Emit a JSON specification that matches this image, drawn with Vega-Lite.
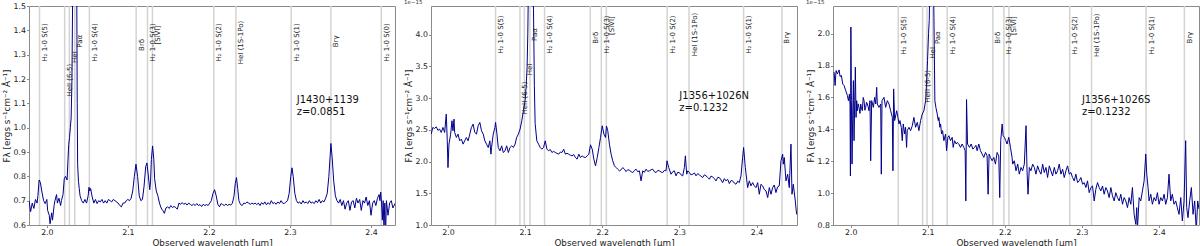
{
"$schema": "https://vega.github.io/schema/vega-lite/v6.json",
"background": "white",
"padding": {"left": 1, "top": -5, "right": 0, "bottom": 0},
"spacing": 36,
"bounds": "flush",
"config": {
  "font": "DejaVu Sans",
  "view": {"stroke": "#8a8a8a", "strokeWidth": 1},
  "axis": {"grid": false, "domain": false, "tickColor": "#8a8a8a", "tickSize": 2.5, "labelFontSize": 7.8, "labelColor": "#222222", "titleFontSize": 8.8, "titleFontWeight": "normal", "titleColor": "#222222", "labelPadding": 1, "labelFlush": false, "labelOverlap": false, "labelSeparation": 0},
  "title": {"fontSize": 5.5, "fontWeight": "normal", "anchor": "start", "offset": 0.5, "color": "#333333"}
},
"datasets": {
"spec1": [
{"w":1.978,"f":0.700},{"w":1.980,"f":0.655},{"w":1.982,"f":0.690},{"w":1.984,"f":0.668},{"w":1.986,"f":0.705},{"w":1.988,"f":0.690},{"w":1.989,"f":0.720},{"w":1.9905,"f":0.785},{"w":1.992,"f":0.775},{"w":1.994,"f":0.735},{"w":1.996,"f":0.700},{"w":1.998,"f":0.688},{"w":2.000,"f":0.705},{"w":2.001,"f":0.660},{"w":2.003,"f":0.640},{"w":2.004,"f":0.605},{"w":2.006,"f":0.650},{"w":2.007,"f":0.620},{"w":2.009,"f":0.680},{"w":2.010,"f":0.700},{"w":2.012,"f":0.725},{"w":2.013,"f":0.690},{"w":2.015,"f":0.710},{"w":2.017,"f":0.680},{"w":2.018,"f":0.700},{"w":2.020,"f":0.725},{"w":2.0215,"f":0.790},{"w":2.023,"f":0.800},{"w":2.025,"f":0.785},{"w":2.026,"f":0.860},{"w":2.027,"f":0.930},{"w":2.028,"f":0.960},{"w":2.029,"f":1.000},{"w":2.030,"f":1.040},{"w":2.031,"f":1.200},{"w":2.032,"f":1.600},{"w":2.033,"f":2.100},{"w":2.034,"f":2.500},{"w":2.035,"f":2.600},{"w":2.036,"f":2.200},{"w":2.037,"f":1.500},{"w":2.0375,"f":1.100},{"w":2.038,"f":0.850},{"w":2.039,"f":0.780},{"w":2.040,"f":0.750},{"w":2.041,"f":0.720},{"w":2.043,"f":0.700},{"w":2.045,"f":0.690},{"w":2.047,"f":0.705},{"w":2.049,"f":0.690},{"w":2.051,"f":0.720},{"w":2.052,"f":0.755},{"w":2.053,"f":0.740},{"w":2.054,"f":0.750},{"w":2.056,"f":0.715},{"w":2.058,"f":0.690},{"w":2.060,"f":0.705},{"w":2.062,"f":0.688},{"w":2.064,"f":0.700},{"w":2.066,"f":0.695},{"w":2.068,"f":0.705},{"w":2.070,"f":0.690},{"w":2.072,"f":0.700},{"w":2.074,"f":0.690},{"w":2.076,"f":0.705},{"w":2.078,"f":0.700},{"w":2.080,"f":0.695},{"w":2.082,"f":0.705},{"w":2.084,"f":0.700},{"w":2.086,"f":0.695},{"w":2.088,"f":0.690},{"w":2.090,"f":0.680},{"w":2.092,"f":0.675},{"w":2.094,"f":0.690},{"w":2.096,"f":0.690},{"w":2.098,"f":0.700},{"w":2.100,"f":0.705},{"w":2.102,"f":0.700},{"w":2.104,"f":0.710},{"w":2.106,"f":0.740},{"w":2.108,"f":0.800},{"w":2.110,"f":0.850},{"w":2.112,"f":0.800},{"w":2.114,"f":0.720},{"w":2.116,"f":0.700},{"w":2.118,"f":0.705},{"w":2.120,"f":0.760},{"w":2.122,"f":0.840},{"w":2.1235,"f":0.855},{"w":2.125,"f":0.810},{"w":2.127,"f":0.745},{"w":2.128,"f":0.780},{"w":2.129,"f":0.870},{"w":2.1305,"f":0.925},{"w":2.132,"f":0.870},{"w":2.133,"f":0.790},{"w":2.135,"f":0.740},{"w":2.137,"f":0.720},{"w":2.139,"f":0.690},{"w":2.141,"f":0.670},{"w":2.143,"f":0.660},{"w":2.145,"f":0.648},{"w":2.147,"f":0.670},{"w":2.149,"f":0.675},{"w":2.151,"f":0.668},{"w":2.153,"f":0.680},{"w":2.155,"f":0.672},{"w":2.157,"f":0.676},{"w":2.159,"f":0.672},{"w":2.161,"f":0.665},{"w":2.163,"f":0.690},{"w":2.165,"f":0.685},{"w":2.167,"f":0.692},{"w":2.169,"f":0.685},{"w":2.171,"f":0.690},{"w":2.173,"f":0.682},{"w":2.175,"f":0.690},{"w":2.177,"f":0.685},{"w":2.179,"f":0.680},{"w":2.181,"f":0.686},{"w":2.183,"f":0.680},{"w":2.185,"f":0.688},{"w":2.187,"f":0.680},{"w":2.189,"f":0.684},{"w":2.191,"f":0.676},{"w":2.193,"f":0.685},{"w":2.195,"f":0.680},{"w":2.197,"f":0.684},{"w":2.199,"f":0.680},{"w":2.201,"f":0.690},{"w":2.203,"f":0.700},{"w":2.205,"f":0.730},{"w":2.207,"f":0.745},{"w":2.209,"f":0.720},{"w":2.211,"f":0.685},{"w":2.213,"f":0.675},{"w":2.215,"f":0.688},{"w":2.217,"f":0.684},{"w":2.219,"f":0.680},{"w":2.221,"f":0.686},{"w":2.223,"f":0.680},{"w":2.225,"f":0.685},{"w":2.227,"f":0.682},{"w":2.229,"f":0.690},{"w":2.231,"f":0.720},{"w":2.2325,"f":0.770},{"w":2.234,"f":0.795},{"w":2.2355,"f":0.750},{"w":2.237,"f":0.700},{"w":2.239,"f":0.684},{"w":2.241,"f":0.680},{"w":2.243,"f":0.690},{"w":2.245,"f":0.688},{"w":2.247,"f":0.695},{"w":2.249,"f":0.690},{"w":2.251,"f":0.685},{"w":2.253,"f":0.690},{"w":2.255,"f":0.686},{"w":2.257,"f":0.690},{"w":2.259,"f":0.684},{"w":2.261,"f":0.690},{"w":2.263,"f":0.680},{"w":2.265,"f":0.692},{"w":2.267,"f":0.685},{"w":2.269,"f":0.695},{"w":2.271,"f":0.683},{"w":2.273,"f":0.692},{"w":2.275,"f":0.685},{"w":2.277,"f":0.700},{"w":2.279,"f":0.688},{"w":2.281,"f":0.692},{"w":2.283,"f":0.685},{"w":2.285,"f":0.695},{"w":2.287,"f":0.688},{"w":2.289,"f":0.700},{"w":2.291,"f":0.690},{"w":2.293,"f":0.688},{"w":2.295,"f":0.695},{"w":2.297,"f":0.700},{"w":2.299,"f":0.730},{"w":2.301,"f":0.800},{"w":2.3025,"f":0.835},{"w":2.304,"f":0.800},{"w":2.306,"f":0.730},{"w":2.308,"f":0.700},{"w":2.310,"f":0.690},{"w":2.312,"f":0.695},{"w":2.314,"f":0.686},{"w":2.316,"f":0.700},{"w":2.318,"f":0.690},{"w":2.320,"f":0.695},{"w":2.322,"f":0.688},{"w":2.324,"f":0.700},{"w":2.326,"f":0.690},{"w":2.328,"f":0.694},{"w":2.330,"f":0.688},{"w":2.332,"f":0.700},{"w":2.334,"f":0.692},{"w":2.336,"f":0.705},{"w":2.338,"f":0.690},{"w":2.340,"f":0.700},{"w":2.342,"f":0.695},{"w":2.344,"f":0.710},{"w":2.346,"f":0.730},{"w":2.348,"f":0.800},{"w":2.3495,"f":0.880},{"w":2.3505,"f":0.935},{"w":2.352,"f":0.880},{"w":2.354,"f":0.780},{"w":2.356,"f":0.720},{"w":2.358,"f":0.700},{"w":2.360,"f":0.690},{"w":2.362,"f":0.705},{"w":2.364,"f":0.680},{"w":2.366,"f":0.700},{"w":2.368,"f":0.665},{"w":2.370,"f":0.690},{"w":2.372,"f":0.700},{"w":2.374,"f":0.660},{"w":2.376,"f":0.695},{"w":2.378,"f":0.700},{"w":2.380,"f":0.670},{"w":2.382,"f":0.710},{"w":2.384,"f":0.690},{"w":2.386,"f":0.705},{"w":2.388,"f":0.660},{"w":2.390,"f":0.700},{"w":2.392,"f":0.690},{"w":2.394,"f":0.715},{"w":2.396,"f":0.680},{"w":2.398,"f":0.700},{"w":2.400,"f":0.640},{"w":2.402,"f":0.690},{"w":2.404,"f":0.700},{"w":2.406,"f":0.680},{"w":2.408,"f":0.710},{"w":2.410,"f":0.725},{"w":2.411,"f":0.700},{"w":2.412,"f":0.735},{"w":2.413,"f":0.690},{"w":2.414,"f":0.620},{"w":2.415,"f":0.700},{"w":2.416,"f":0.580},{"w":2.417,"f":0.690},{"w":2.418,"f":0.560},{"w":2.419,"f":0.700},{"w":2.421,"f":0.640},{"w":2.423,"f":0.690},{"w":2.425,"f":0.700},{"w":2.427,"f":0.670},{"w":2.430,"f":0.690}
],
"spec2": [
{"w":1.9783,"f":2.432},{"w":1.9804,"f":2.537},{"w":1.9826,"f":2.52},{"w":1.9848,"f":2.547},{"w":1.987,"f":2.49},{"w":1.9891,"f":2.511},{"w":1.9913,"f":2.458},{"w":1.9935,"f":2.537},{"w":1.9957,"f":2.458},{"w":1.9978,"f":2.747},{"w":1.9991,"f":2.326},{"w":2.0,"f":1.905},{"w":2.0013,"f":2.274},{"w":2.0035,"f":2.432},{"w":2.0052,"f":2.642},{"w":2.0065,"f":2.484},{"w":2.0078,"f":2.668},{"w":2.0087,"f":2.458},{"w":2.0109,"f":2.379},{"w":2.013,"f":2.432},{"w":2.0152,"f":2.326},{"w":2.0174,"f":2.353},{"w":2.0196,"f":2.274},{"w":2.0217,"f":2.326},{"w":2.0239,"f":2.379},{"w":2.0261,"f":2.326},{"w":2.0283,"f":2.432},{"w":2.0304,"f":2.537},{"w":2.0326,"f":2.589},{"w":2.0348,"f":2.458},{"w":2.037,"f":2.432},{"w":2.0391,"f":2.563},{"w":2.0413,"f":2.616},{"w":2.0435,"f":2.484},{"w":2.0457,"f":2.432},{"w":2.0478,"f":2.326},{"w":2.05,"f":2.274},{"w":2.0522,"f":2.221},{"w":2.0543,"f":2.326},{"w":2.0557,"f":2.116},{"w":2.0565,"f":2.221},{"w":2.0587,"f":2.432},{"w":2.0609,"f":2.537},{"w":2.0617,"f":2.616},{"w":2.0635,"f":2.432},{"w":2.0652,"f":2.221},{"w":2.0674,"f":2.168},{"w":2.0696,"f":2.247},{"w":2.0717,"f":2.142},{"w":2.0739,"f":2.168},{"w":2.0761,"f":2.247},{"w":2.0783,"f":2.142},{"w":2.0804,"f":2.221},{"w":2.0826,"f":2.247},{"w":2.0848,"f":2.221},{"w":2.087,"f":2.274},{"w":2.0891,"f":2.379},{"w":2.0913,"f":2.432},{"w":2.0935,"f":2.511},{"w":2.0957,"f":2.642},{"w":2.0978,"f":2.8},{"w":2.1,"f":2.958},{"w":2.1013,"f":3.168},{"w":2.1026,"f":3.484},{"w":2.1035,"f":4.011},{"w":2.1045,"f":5.0},{"w":2.106,"f":6.2},{"w":2.1075,"f":6.0},{"w":2.109,"f":5.2},{"w":2.1109,"f":4.4},{"w":2.112,"f":3.2},{"w":2.113,"f":2.6},{"w":2.1152,"f":2.326},{"w":2.1174,"f":2.274},{"w":2.1196,"f":2.221},{"w":2.1217,"f":2.195},{"w":2.1239,"f":2.221},{"w":2.1261,"f":2.326},{"w":2.1283,"f":2.195},{"w":2.1304,"f":2.168},{"w":2.1326,"f":2.19},{"w":2.1348,"f":2.142},{"w":2.137,"f":2.16},{"w":2.1391,"f":2.142},{"w":2.1413,"f":2.13},{"w":2.1435,"f":2.116},{"w":2.1457,"f":2.15},{"w":2.1478,"f":2.142},{"w":2.15,"f":2.195},{"w":2.1522,"f":2.116},{"w":2.1543,"f":2.13},{"w":2.1565,"f":2.116},{"w":2.1587,"f":2.1},{"w":2.1609,"f":2.089},{"w":2.163,"f":2.11},{"w":2.1652,"f":2.063},{"w":2.1674,"f":2.037},{"w":2.1696,"f":2.116},{"w":2.1717,"f":2.063},{"w":2.1739,"f":2.089},{"w":2.1761,"f":2.07},{"w":2.1783,"f":2.063},{"w":2.1805,"f":2.09},{"w":2.1826,"f":2.116},{"w":2.1848,"f":2.263},{"w":2.187,"f":2.195},{"w":2.1891,"f":2.037},{"w":2.1913,"f":1.932},{"w":2.1935,"f":2.063},{"w":2.1957,"f":2.221},{"w":2.1978,"f":2.379},{"w":2.2,"f":2.563},{"w":2.2022,"f":2.432},{"w":2.2043,"f":2.379},{"w":2.2055,"f":2.56},{"w":2.2072,"f":2.484},{"w":2.2093,"f":2.274},{"w":2.2115,"f":2.116},{"w":2.2136,"f":2.011},{"w":2.2158,"f":1.932},{"w":2.218,"f":1.905},{"w":2.22,"f":1.88},{"w":2.2223,"f":1.853},{"w":2.2245,"f":1.87},{"w":2.2266,"f":1.905},{"w":2.2288,"f":1.879},{"w":2.2309,"f":1.842},{"w":2.233,"f":1.87},{"w":2.2352,"f":1.863},{"w":2.2374,"f":1.84},{"w":2.2396,"f":1.826},{"w":2.2418,"f":1.86},{"w":2.2439,"f":1.879},{"w":2.246,"f":1.84},{"w":2.2482,"f":1.853},{"w":2.2503,"f":1.695},{"w":2.2525,"f":1.853},{"w":2.2546,"f":1.83},{"w":2.2568,"f":1.879},{"w":2.259,"f":1.845},{"w":2.2611,"f":1.853},{"w":2.2633,"f":1.87},{"w":2.2655,"f":1.879},{"w":2.2676,"f":1.84},{"w":2.2698,"f":1.826},{"w":2.272,"f":1.86},{"w":2.2741,"f":1.853},{"w":2.2762,"f":1.835},{"w":2.2784,"f":1.826},{"w":2.2805,"f":1.86},{"w":2.2827,"f":1.853},{"w":2.284,"f":2.011},{"w":2.2862,"f":1.905},{"w":2.2892,"f":1.8},{"w":2.2915,"f":1.84},{"w":2.2935,"f":1.853},{"w":2.2957,"f":1.774},{"w":2.2978,"f":1.83},{"w":2.3,"f":1.826},{"w":2.3022,"f":1.79},{"w":2.3043,"f":1.774},{"w":2.3065,"f":1.905},{"w":2.3078,"f":2.089},{"w":2.3095,"f":1.8},{"w":2.3108,"f":1.853},{"w":2.313,"f":1.826},{"w":2.315,"f":1.79},{"w":2.3173,"f":1.8},{"w":2.3195,"f":1.82},{"w":2.3216,"f":1.774},{"w":2.3238,"f":1.81},{"w":2.3259,"f":1.789},{"w":2.328,"f":1.77},{"w":2.3302,"f":1.747},{"w":2.3324,"f":1.79},{"w":2.3345,"f":1.774},{"w":2.3367,"f":1.75},{"w":2.3389,"f":1.721},{"w":2.341,"f":1.77},{"w":2.3432,"f":1.758},{"w":2.3454,"f":1.73},{"w":2.3475,"f":1.695},{"w":2.3497,"f":1.75},{"w":2.3518,"f":1.747},{"w":2.354,"f":1.71},{"w":2.3561,"f":1.668},{"w":2.3583,"f":1.73},{"w":2.3604,"f":1.695},{"w":2.3626,"f":1.72},{"w":2.3648,"f":1.653},{"w":2.367,"f":1.7},{"w":2.3691,"f":1.695},{"w":2.3712,"f":1.66},{"w":2.3734,"f":1.642},{"w":2.3756,"f":1.69},{"w":2.3777,"f":1.668},{"w":2.3799,"f":1.774},{"w":2.382,"f":2.063},{"w":2.3833,"f":2.221},{"w":2.3855,"f":1.905},{"w":2.3885,"f":1.589},{"w":2.3907,"f":1.695},{"w":2.3928,"f":1.616},{"w":2.395,"f":1.668},{"w":2.397,"f":1.62},{"w":2.3993,"f":1.589},{"w":2.4015,"f":1.668},{"w":2.4036,"f":1.484},{"w":2.4058,"f":1.642},{"w":2.408,"f":1.616},{"w":2.41,"f":1.56},{"w":2.4123,"f":1.537},{"w":2.4145,"f":1.432},{"w":2.4166,"f":1.589},{"w":2.4188,"f":1.484},{"w":2.4209,"f":1.589},{"w":2.423,"f":1.63},{"w":2.4252,"f":1.511},{"w":2.4273,"f":1.6},{"w":2.4295,"f":1.616},{"w":2.4317,"f":2.011},{"w":2.4339,"f":2.116},{"w":2.4347,"f":1.958},{"w":2.436,"f":2.063},{"w":2.4382,"f":1.695},{"w":2.4404,"f":1.8},{"w":2.4425,"f":1.589},{"w":2.4447,"f":2.274},{"w":2.446,"f":1.484},{"w":2.4477,"f":1.642},{"w":2.4503,"f":1.379},{"w":2.452,"f":1.168}
],
"spec3": [
{"w":1.9784,"f":1.759},{"w":1.9797,"f":1.675},{"w":1.981,"f":1.769},{"w":1.9827,"f":1.748},{"w":1.9849,"f":1.773},{"w":1.9862,"f":1.731},{"w":1.9879,"f":1.738},{"w":1.9896,"f":1.685},{"w":1.9914,"f":1.675},{"w":1.9935,"f":1.643},{"w":1.9957,"f":1.612},{"w":1.997,"f":1.58},{"w":1.9983,"f":1.622},{"w":1.9991,"f":1.559},{"w":1.9996,"f":1.108},{"w":2.0002,"f":2.042},{"w":2.0009,"f":1.58},{"w":2.0017,"f":1.182},{"w":2.0026,"f":1.496},{"w":2.0035,"f":1.706},{"w":2.0043,"f":1.329},{"w":2.0052,"f":1.58},{"w":2.006,"f":1.79},{"w":2.0069,"f":1.475},{"w":2.0078,"f":1.58},{"w":2.0086,"f":1.517},{"w":2.0097,"f":1.56},{"w":2.0108,"f":1.538},{"w":2.012,"f":1.5},{"w":2.013,"f":1.559},{"w":2.014,"f":1.53},{"w":2.0151,"f":1.517},{"w":2.0162,"f":1.6},{"w":2.0173,"f":1.58},{"w":2.0184,"f":1.52},{"w":2.0194,"f":1.538},{"w":2.0205,"f":1.57},{"w":2.0216,"f":1.559},{"w":2.0227,"f":1.54},{"w":2.0237,"f":1.517},{"w":2.025,"f":1.58},{"w":2.0259,"f":1.203},{"w":2.0272,"f":1.58},{"w":2.0294,"f":1.538},{"w":2.0311,"f":1.601},{"w":2.0324,"f":1.559},{"w":2.0337,"f":1.664},{"w":2.0345,"f":1.559},{"w":2.0367,"f":1.538},{"w":2.0389,"f":1.559},{"w":2.0397,"f":1.119},{"w":2.0406,"f":1.58},{"w":2.0432,"f":1.601},{"w":2.0453,"f":1.538},{"w":2.0475,"f":1.58},{"w":2.0497,"f":1.559},{"w":2.0518,"f":1.517},{"w":2.054,"f":1.475},{"w":2.0548,"f":1.14},{"w":2.0557,"f":1.654},{"w":2.057,"f":1.455},{"w":2.0585,"f":1.49},{"w":2.0596,"f":1.517},{"w":2.0613,"f":1.475},{"w":2.0626,"f":1.434},{"w":2.0639,"f":1.455},{"w":2.0656,"f":1.413},{"w":2.0669,"f":1.329},{"w":2.0682,"f":1.434},{"w":2.07,"f":1.371},{"w":2.0712,"f":1.413},{"w":2.0725,"f":1.287},{"w":2.0734,"f":1.392},{"w":2.0756,"f":1.413},{"w":2.0777,"f":1.392},{"w":2.0799,"f":1.423},{"w":2.082,"f":1.475},{"w":2.0842,"f":1.413},{"w":2.0864,"f":1.444},{"w":2.0885,"f":1.392},{"w":2.0907,"f":1.455},{"w":2.0928,"f":1.496},{"w":2.095,"f":1.517},{"w":2.0972,"f":1.58},{"w":2.0984,"f":1.685},{"w":2.0997,"f":1.832},{"w":2.101,"f":2.0},{"w":2.1019,"f":2.084},{"w":2.1035,"f":2.5},{"w":2.105,"f":2.8},{"w":2.1065,"f":2.6},{"w":2.108,"f":2.1},{"w":2.1092,"f":1.58},{"w":2.1105,"f":1.538},{"w":2.1123,"f":1.496},{"w":2.1136,"f":1.455},{"w":2.1144,"f":1.475},{"w":2.1157,"f":1.413},{"w":2.1166,"f":1.434},{"w":2.1179,"f":1.371},{"w":2.1192,"f":1.392},{"w":2.1209,"f":1.329},{"w":2.1231,"f":1.371},{"w":2.1244,"f":1.266},{"w":2.1261,"f":1.35},{"w":2.1274,"f":1.36},{"w":2.1295,"f":1.329},{"w":2.1317,"f":1.35},{"w":2.133,"f":1.287},{"w":2.1347,"f":1.329},{"w":2.1369,"f":1.308},{"w":2.1382,"f":1.318},{"w":2.1403,"f":1.308},{"w":2.1425,"f":1.287},{"w":2.1446,"f":1.308},{"w":2.1468,"f":1.287},{"w":2.1485,"f":1.266},{"w":2.1494,"f":0.951},{"w":2.1503,"f":1.587},{"w":2.1516,"f":1.308},{"w":2.1541,"f":1.287},{"w":2.1563,"f":1.308},{"w":2.1585,"f":1.276},{"w":2.1606,"f":1.287},{"w":2.1625,"f":1.3},{"w":2.1641,"f":1.266},{"w":2.1662,"f":1.308},{"w":2.1684,"f":1.266},{"w":2.1706,"f":1.245},{"w":2.1727,"f":1.224},{"w":2.1749,"f":1.255},{"w":2.177,"f":1.234},{"w":2.1783,"f":0.993},{"w":2.1796,"f":1.245},{"w":2.1813,"f":1.224},{"w":2.1835,"f":1.203},{"w":2.1857,"f":1.224},{"w":2.1878,"f":1.182},{"w":2.19,"f":1.255},{"w":2.1921,"f":1.234},{"w":2.1934,"f":0.972},{"w":2.1947,"f":1.329},{"w":2.1965,"f":1.434},{"w":2.1978,"f":1.36},{"w":2.1995,"f":1.35},{"w":2.2012,"f":1.329},{"w":2.2029,"f":1.308},{"w":2.2051,"f":1.35},{"w":2.2073,"f":1.287},{"w":2.2094,"f":1.224},{"w":2.2102,"f":1.182},{"w":2.2123,"f":1.203},{"w":2.2145,"f":1.14},{"w":2.2167,"f":1.182},{"w":2.2188,"f":1.119},{"w":2.221,"f":1.161},{"w":2.2231,"f":1.14},{"w":2.2253,"f":1.182},{"w":2.2275,"f":1.423},{"w":2.2288,"f":1.14},{"w":2.2301,"f":0.993},{"w":2.2318,"f":1.161},{"w":2.2339,"f":1.14},{"w":2.2361,"f":1.182},{"w":2.2383,"f":1.161},{"w":2.2404,"f":1.119},{"w":2.2426,"f":1.171},{"w":2.2447,"f":1.14},{"w":2.2469,"f":1.119},{"w":2.2491,"f":1.182},{"w":2.2512,"f":1.129},{"w":2.2534,"f":1.161},{"w":2.2555,"f":1.098},{"w":2.2577,"f":1.171},{"w":2.2598,"f":1.14},{"w":2.262,"f":1.108},{"w":2.2642,"f":1.161},{"w":2.2663,"f":1.119},{"w":2.2685,"f":1.14},{"w":2.2706,"f":1.182},{"w":2.2728,"f":1.119},{"w":2.275,"f":1.15},{"w":2.2771,"f":1.098},{"w":2.2793,"f":1.14},{"w":2.2814,"f":1.171},{"w":2.2836,"f":1.119},{"w":2.2858,"f":1.129},{"w":2.2879,"f":1.098},{"w":2.2901,"f":1.077},{"w":2.2922,"f":1.119},{"w":2.2944,"f":1.066},{"w":2.2965,"f":1.077},{"w":2.2987,"f":1.098},{"w":2.3009,"f":1.056},{"w":2.303,"f":1.066},{"w":2.3052,"f":1.035},{"w":2.3073,"f":1.077},{"w":2.3095,"f":1.003},{"w":2.3117,"f":1.035},{"w":2.3138,"f":1.045},{"w":2.316,"f":0.951},{"w":2.3181,"f":1.024},{"w":2.3203,"f":1.066},{"w":2.3225,"f":1.035},{"w":2.3246,"f":1.014},{"w":2.3268,"f":1.045},{"w":2.3289,"f":0.993},{"w":2.3311,"f":1.035},{"w":2.3332,"f":1.014},{"w":2.3354,"f":0.972},{"w":2.3376,"f":1.035},{"w":2.3397,"f":0.983},{"w":2.3419,"f":0.951},{"w":2.344,"f":1.003},{"w":2.3462,"f":0.972},{"w":2.3484,"f":0.951},{"w":2.3505,"f":0.993},{"w":2.3527,"f":0.93},{"w":2.3548,"f":0.972},{"w":2.357,"f":0.951},{"w":2.3592,"f":0.909},{"w":2.3613,"f":0.972},{"w":2.3635,"f":0.93},{"w":2.3656,"f":1.035},{"w":2.3678,"f":0.867},{"w":2.37,"f":0.804},{"w":2.3712,"f":0.909},{"w":2.3721,"f":0.773},{"w":2.3743,"f":0.972},{"w":2.3764,"f":0.951},{"w":2.3786,"f":1.014},{"w":2.3808,"f":1.077},{"w":2.3829,"f":1.245},{"w":2.3842,"f":1.119},{"w":2.3859,"f":1.035},{"w":2.3872,"f":0.951},{"w":2.3894,"f":0.993},{"w":2.3915,"f":0.93},{"w":2.3937,"f":0.972},{"w":2.3959,"f":0.951},{"w":2.398,"f":1.003},{"w":2.4002,"f":0.93},{"w":2.4023,"f":0.972},{"w":2.4045,"f":0.951},{"w":2.4067,"f":0.993},{"w":2.4088,"f":0.93},{"w":2.411,"f":0.972},{"w":2.4131,"f":1.119},{"w":2.4153,"f":0.951},{"w":2.4174,"f":0.993},{"w":2.4196,"f":0.93},{"w":2.4218,"f":0.951},{"w":2.4239,"f":0.909},{"w":2.4261,"f":0.867},{"w":2.4283,"f":0.972},{"w":2.4304,"f":0.825},{"w":2.4326,"f":0.951},{"w":2.4347,"f":1.329},{"w":2.436,"f":0.909},{"w":2.4377,"f":0.846},{"w":2.4399,"f":0.951},{"w":2.4421,"f":1.035},{"w":2.4443,"f":0.867},{"w":2.4464,"f":0.951},{"w":2.4485,"f":0.762},{"w":2.4503,"f":0.951},{"w":2.452,"f":0.9}
],
"lines1": [
{"w":1.9910,"lab":"H₂ 1-0 S(5)","ly":1.35},{"w":2.0220,"lab":"HeII (6-5)","ly":1.195},{"w":2.0278,"lab":"HeI","ly":1.29},{"w":2.0345,"lab":"Paα","ly":1.355},{"w":2.0525,"lab":"H₂ 1-0 S(4)","ly":1.35},{"w":2.1102,"lab":"Brδ","ly":1.34},{"w":2.1242,"lab":"H₂ 1-0 S(3)","ly":1.35},{"w":2.1303,"lab":"[SiVI]","ly":1.38},{"w":2.2060,"lab":"H₂ 1-0 S(2)","ly":1.35},{"w":2.2333,"lab":"HeI (1S-1Po)","ly":1.35},{"w":2.3015,"lab":"H₂ 1-0 S(1)","ly":1.35},{"w":2.3505,"lab":"Brγ","ly":1.355},{"w":2.4127,"lab":"H₂ 1-0 S(0)","ly":1.35}
],
"lines2": [
{"w":2.0617,"lab":"H₂ 1-0 S(5)","ly":4.0},{"w":2.0933,"lab":"HeII (6-5)","ly":3.0},{"w":2.0990,"lab":"HeI","ly":3.45},{"w":2.1063,"lab":"Paα","ly":4.0},{"w":2.1252,"lab":"H₂ 1-0 S(4)","ly":4.0},{"w":2.1845,"lab":"Brδ","ly":3.95},{"w":2.1988,"lab":"H₂ 1-0 S(3)","ly":4.0},{"w":2.2053,"lab":"[SiVI]","ly":4.14},{"w":2.2842,"lab":"H₂ 1-0 S(2)","ly":4.0},{"w":2.3125,"lab":"HeI (1S-1Po)","ly":4.0},{"w":2.3833,"lab":"H₂ 1-0 S(1)","ly":4.0},{"w":2.4330,"lab":"Brγ","ly":3.95}
],
"lines3": [
{"w":2.0617,"lab":"H₂ 1-0 S(5)","ly":1.99},{"w":2.0933,"lab":"HeII (6-5)","ly":1.67},{"w":2.0990,"lab":"HeI","ly":1.88},{"w":2.1063,"lab":"Paα","ly":1.975},{"w":2.1252,"lab":"H₂ 1-0 S(4)","ly":1.99},{"w":2.1845,"lab":"Brδ","ly":1.975},{"w":2.1988,"lab":"H₂ 1-0 S(3)","ly":1.99},{"w":2.2053,"lab":"[SiVI]","ly":2.05},{"w":2.2842,"lab":"H₂ 1-0 S(2)","ly":1.99},{"w":2.3125,"lab":"HeI (1S-1Po)","ly":1.99},{"w":2.3833,"lab":"H₂ 1-0 S(1)","ly":1.99},{"w":2.4330,"lab":"Brγ","ly":1.975}
]
},
"hconcat": [
{
 "width": 366, "height": 219,
 "title": {"text": "1e−14"},
 "encoding": {
   "x": {"field": "w", "type": "quantitative", "scale": {"domain": [1.978, 2.4296], "nice": false, "zero": false},
     "axis": {"title": "Observed wavelength [µm]", "values": [2.0, 2.1, 2.2, 2.3, 2.4], "format": ".1f", "titlePadding": 2, "labelOverlap": false}}
 },
 "layer": [
  {"data": {"name": "lines1"}, "mark": {"type": "rule", "color": "#d3d3d3", "strokeWidth": 1.5, "clip": true}, "encoding": {}},
  {"data": {"name": "spec1"}, "mark": {"type": "line", "color": "#00008b", "strokeWidth": 1, "clip": true},
   "encoding": {"y": {"field": "f", "type": "quantitative", "scale": {"domain": [0.6, 1.5], "nice": false, "zero": false},
       "axis": {"title": "Fλ [ergs s⁻¹cm⁻² Å⁻¹]", "values": [0.6, 0.7, 0.8, 0.9, 1.0, 1.1, 1.2, 1.3, 1.4, 1.5], "format": ".1f", "titlePadding": 2, "labelOverlap": false, "labelSeparation": 0}}}},
  {"data": {"name": "lines1"}, "mark": {"type": "text", "angle": 270, "align": "center", "baseline": "top", "dy": 1.5, "fontSize": 7, "color": "#222222"},
   "encoding": {"y": {"field": "ly", "type": "quantitative", "scale": {"domain": [0.6, 1.5], "nice": false, "zero": false},
       "axis": {"title": "Fλ [ergs s⁻¹cm⁻² Å⁻¹]", "values": [0.6, 0.7, 0.8, 0.9, 1.0, 1.1, 1.2, 1.3, 1.4, 1.5], "format": ".1f", "titlePadding": 2, "labelOverlap": false, "labelSeparation": 0}},
     "text": {"field": "lab", "type": "nominal"}}},
  {"data": {"values": [{"w": 2.3083, "f": 1.136, "t": "J1430+1139\nz=0.0851"}]}, "mark": {"type": "text", "align": "left", "baseline": "top", "fontSize": 10, "lineBreak": "\n", "lineHeight": 12, "color": "#111111"},
   "encoding": {"y": {"field": "f", "type": "quantitative", "scale": {"domain": [0.6, 1.5], "nice": false, "zero": false},
       "axis": {"title": "Fλ [ergs s⁻¹cm⁻² Å⁻¹]", "values": [0.6, 0.7, 0.8, 0.9, 1.0, 1.1, 1.2, 1.3, 1.4, 1.5], "format": ".1f", "titlePadding": 2, "labelOverlap": false, "labelSeparation": 0}},
     "text": {"field": "t", "type": "nominal"}}}
 ]
},
{
 "width": 366, "height": 219,
 "title": {"text": "1e−15"},
 "encoding": {
   "x": {"field": "w", "type": "quantitative", "scale": {"domain": [1.978, 2.4525], "nice": false, "zero": false},
     "axis": {"title": "Observed wavelength [µm]", "values": [2.0, 2.1, 2.2, 2.3, 2.4], "format": ".1f", "titlePadding": 2, "labelOverlap": false}}
 },
 "layer": [
  {"data": {"name": "lines2"}, "mark": {"type": "rule", "color": "#d3d3d3", "strokeWidth": 1.5, "clip": true}, "encoding": {}},
  {"data": {"name": "spec2"}, "mark": {"type": "line", "color": "#00008b", "strokeWidth": 1, "clip": true},
   "encoding": {"y": {"field": "f", "type": "quantitative", "scale": {"domain": [1.0, 4.45], "nice": false, "zero": false},
       "axis": {"title": "Fλ [ergs s⁻¹cm⁻² Å⁻¹]", "values": [1.0, 1.5, 2.0, 2.5, 3.0, 3.5, 4.0], "format": ".1f", "titlePadding": 2, "labelOverlap": false, "labelSeparation": 0}}}},
  {"data": {"name": "lines2"}, "mark": {"type": "text", "angle": 270, "align": "center", "baseline": "top", "dy": 1.5, "fontSize": 7, "color": "#222222"},
   "encoding": {"y": {"field": "ly", "type": "quantitative", "scale": {"domain": [1.0, 4.45], "nice": false, "zero": false},
       "axis": {"title": "Fλ [ergs s⁻¹cm⁻² Å⁻¹]", "values": [1.0, 1.5, 2.0, 2.5, 3.0, 3.5, 4.0], "format": ".1f", "titlePadding": 2, "labelOverlap": false, "labelSeparation": 0}},
     "text": {"field": "lab", "type": "nominal"}}},
  {"data": {"values": [{"w": 2.300, "f": 3.117, "t": "J1356+1026N\nz=0.1232"}]}, "mark": {"type": "text", "align": "left", "baseline": "top", "fontSize": 10, "lineBreak": "\n", "lineHeight": 12, "color": "#111111"},
   "encoding": {"y": {"field": "f", "type": "quantitative", "scale": {"domain": [1.0, 4.45], "nice": false, "zero": false},
       "axis": {"title": "Fλ [ergs s⁻¹cm⁻² Å⁻¹]", "values": [1.0, 1.5, 2.0, 2.5, 3.0, 3.5, 4.0], "format": ".1f", "titlePadding": 2, "labelOverlap": false, "labelSeparation": 0}},
     "text": {"field": "t", "type": "nominal"}}}
 ]
},
{
 "width": 366, "height": 219,
 "title": {"text": "1e−15"},
 "encoding": {
   "x": {"field": "w", "type": "quantitative", "scale": {"domain": [1.977, 2.452], "nice": false, "zero": false},
     "axis": {"title": "Observed wavelength [µm]", "values": [2.0, 2.1, 2.2, 2.3, 2.4], "format": ".1f", "titlePadding": 2, "labelOverlap": false}}
 },
 "layer": [
  {"data": {"name": "lines3"}, "mark": {"type": "rule", "color": "#d3d3d3", "strokeWidth": 1.5, "clip": true}, "encoding": {}},
  {"data": {"name": "spec3"}, "mark": {"type": "line", "color": "#00008b", "strokeWidth": 1, "clip": true},
   "encoding": {"y": {"field": "f", "type": "quantitative", "scale": {"domain": [0.8, 2.174], "nice": false, "zero": false},
       "axis": {"title": "Fλ [ergs s⁻¹cm⁻² Å⁻¹]", "values": [0.8, 1.0, 1.2, 1.4, 1.6, 1.8, 2.0], "format": ".1f", "titlePadding": 2, "labelOverlap": false, "labelSeparation": 0}}}},
  {"data": {"name": "lines3"}, "mark": {"type": "text", "angle": 270, "align": "center", "baseline": "top", "dy": 1.5, "fontSize": 7, "color": "#222222"},
   "encoding": {"y": {"field": "ly", "type": "quantitative", "scale": {"domain": [0.8, 2.174], "nice": false, "zero": false},
       "axis": {"title": "Fλ [ergs s⁻¹cm⁻² Å⁻¹]", "values": [0.8, 1.0, 1.2, 1.4, 1.6, 1.8, 2.0], "format": ".1f", "titlePadding": 2, "labelOverlap": false, "labelSeparation": 0}},
     "text": {"field": "lab", "type": "nominal"}}},
  {"data": {"values": [{"w": 2.300, "f": 1.616, "t": "J1356+1026S\nz=0.1232"}]}, "mark": {"type": "text", "align": "left", "baseline": "top", "fontSize": 10, "lineBreak": "\n", "lineHeight": 12, "color": "#111111"},
   "encoding": {"y": {"field": "f", "type": "quantitative", "scale": {"domain": [0.8, 2.174], "nice": false, "zero": false},
       "axis": {"title": "Fλ [ergs s⁻¹cm⁻² Å⁻¹]", "values": [0.8, 1.0, 1.2, 1.4, 1.6, 1.8, 2.0], "format": ".1f", "titlePadding": 2, "labelOverlap": false, "labelSeparation": 0}},
     "text": {"field": "t", "type": "nominal"}}}
 ]
}
]
}
